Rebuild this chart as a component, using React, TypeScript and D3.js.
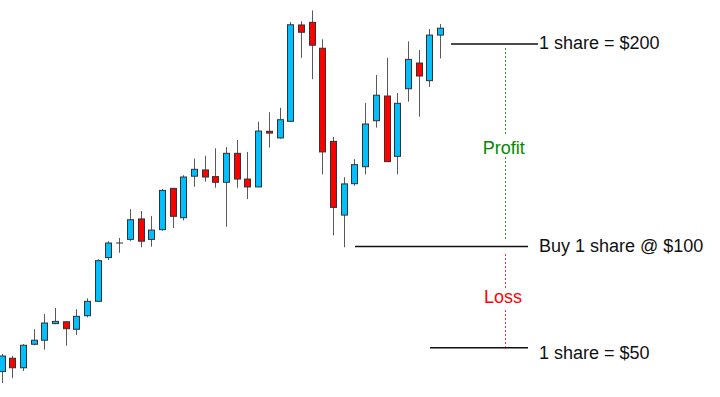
import React from 'react';
import * as d3 from 'd3';

// OHLC prices (one entry per candle)
const opens = [38.2, 44.8, 40.1, 51.7, 53.7, 61.9, 62.8, 59.1, 65.8, 72.9, 94.5, 101.7, 103.5, 113.6, 103.5, 108.3, 128.7, 114.2, 134.7, 137.8, 134.5, 131.7, 146.0, 133.3, 129.4, 156.9, 153.6, 161.8, 209.4, 210.7, 197.9, 151.9, 115.5, 131.0, 139.4, 162.1, 174.3, 144.5, 177.9, 190.6, 181.9, 204.4];
const highs = [46.9, 45.9, 51.8, 59.1, 66.6, 69.6, 63.2, 69.0, 74.4, 93.7, 102.6, 104.2, 118.4, 117.5, 115.1, 128.4, 128.9, 135.2, 143.4, 144.8, 148.5, 149.1, 152.6, 146.7, 161.6, 166.3, 168.5, 210.9, 211.2, 216.6, 202.3, 154.1, 134.2, 143.1, 170.9, 184.7, 193.2, 175.8, 201.3, 197.0, 207.4, 209.9];
const lows = [32.6, 34.9, 38.5, 51.2, 49.0, 61.6, 51.0, 56.3, 65.0, 72.7, 93.3, 96.9, 102.6, 99.6, 99.9, 107.8, 109.1, 112.9, 129.5, 132.0, 129.0, 109.8, 129.0, 123.4, 129.4, 148.8, 153.2, 161.8, 193.2, 182.6, 135.6, 105.5, 99.6, 130.0, 135.6, 158.7, 141.9, 135.6, 171.5, 164.1, 178.8, 192.9];
const closes = [45.9, 40.1, 51.2, 53.7, 62.2, 63.0, 59.4, 65.5, 72.9, 93.0, 101.7, 101.7, 113.2, 102.6, 108.1, 127.7, 114.9, 134.3, 138.1, 134.3, 131.7, 146.0, 133.3, 129.4, 157.0, 156.0, 162.6, 209.5, 205.8, 199.4, 146.7, 119.3, 130.9, 140.4, 160.5, 174.7, 141.9, 170.7, 192.4, 184.2, 204.4, 207.8];

// reference levels and their labels
const levelPrices = [200, 100, 50];
const levelLabels = ['1 share = $200', 'Buy 1 share @ $100', '1 share = $50'];
const levelStarts = [451, 355, 430];
const levelEnds = [538, 528, 528];
const labelBaselines = [49.3, 252.3, 358.7];

const W = 720;
const H = 397;

export default function App() {
  const x = d3.scaleLinear().domain([0, opens.length - 1]).range([2, 440.5]);
  const y = d3.scaleLinear().domain([50, 200]).range([347.7, 44]);

  const candles = opens.map((o, i) => ({ o, h: highs[i], l: lows[i], c: closes[i] }));
  const font = '"Liberation Sans", Arial, sans-serif';
  const vx = 505.5;

  return (
    <svg width={W} height={H} style={{ position: 'absolute', left: 0, top: 0, background: '#fff' }}>
      <g>
        {candles.map((d, i) => {
          const left = Math.round(x(i) - 3.5);
          const cx = left + 3.5;
          const top = y(Math.max(d.o, d.c));
          const bot = y(Math.min(d.o, d.c));
          const up = d.c > d.o;
          const doji = d.c === d.o;
          return (
            <g key={i}>
              <line x1={cx} x2={cx} y1={y(d.h)} y2={y(d.l)} stroke="#5a5a5a" strokeWidth={1} />
              {doji ? (
                <line x1={left} x2={left + 7} y1={top} y2={top} stroke="#333" strokeWidth={1} />
              ) : (
                <rect
                  x={left + 0.5}
                  y={top}
                  width={6}
                  height={Math.max(1, bot - top)}
                  fill={up ? '#00bfff' : '#ff0000'}
                  stroke="#333"
                  strokeWidth={1}
                />
              )}
            </g>
          );
        })}
      </g>

      {levelPrices.map((p, i) => (
        <g key={p}>
          <line x1={levelStarts[i]} x2={levelEnds[i]} y1={y(p)} y2={y(p)} stroke="#111" strokeWidth={1.6} />
          <text x={539} y={labelBaselines[i]} fontFamily={font} fontSize={18} fill="#111">
            {levelLabels[i]}
          </text>
        </g>
      ))}

      {/* profit / loss guide */}
      <g strokeWidth={1} strokeDasharray="2,2">
        <line x1={vx} x2={vx} y1={y(200) + 4} y2={134} stroke="#2a9a2a" />
        <line x1={vx} x2={vx} y1={157} y2={239} stroke="#2a9a2a" />
        <line x1={vx} x2={vx} y1={254} y2={289} stroke="#ff3030" />
        <line x1={vx} x2={vx} y1={310} y2={y(50) - 1} stroke="#ff3030" />
      </g>
      <text x={503.7} y={154.3} textAnchor="middle" fontFamily={font} fontSize={18} fill="#008a00">
        Profit
      </text>
      <text x={503} y={303} textAnchor="middle" fontFamily={font} fontSize={18} fill="#ff0000">
        Loss
      </text>
    </svg>
  );
}
